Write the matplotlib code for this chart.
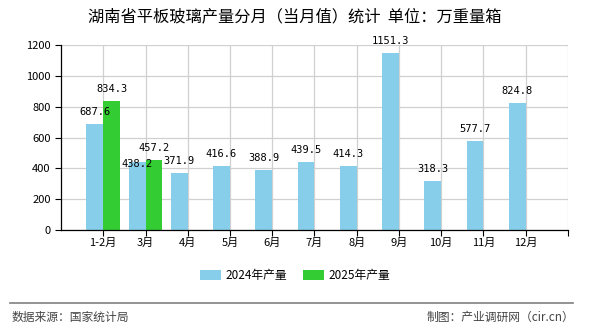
import numpy as np
import matplotlib.pyplot as plt

plt.rcParams['font.family'] = ['Noto Sans CJK SC', 'DejaVu Sans']

# data
months = ['1-2月', '3月', '4月', '5月', '6月', '7月', '8月', '9月', '10月', '11月', '12月']
y2024 = [687.6, 438.2, 371.9, 416.6, 388.9, 439.5, 414.3, 1151.3, 318.3, 577.7, 824.8]
y2025 = [834.3, 457.2]
yticks = [0, 200, 400, 600, 800, 1000, 1200]

c24 = '#87CEEB'
c25 = '#33CC33'

fig = plt.figure(figsize=(5.9, 3.3), dpi=100)
ax = fig.add_axes([0.1034, 0.303, 0.8593, 0.5606])

x = np.arange(len(months))
x25 = np.arange(len(y2025))
w = 0.4
ax.bar(x - w / 2, y2024, width=w, color=c24, zorder=2, label='2024年产量')
ax.bar(x25 + w / 2, y2025, width=w, color=c25, zorder=2, label='2025年产量')

# data labels
lab_font = dict(family='DejaVu Sans Mono', fontsize=7.5, color='black', ha='center', va='bottom', zorder=4)
for i, v in enumerate(y2024):
    dy = 5
    if i < len(y2025) and abs(y2025[i] - v) < 60:
        dy = -5  # pushed down when it would clash with the 2025 label
    ax.annotate(f'{v:.1f}', (x[i] - w / 2, v), xytext=(0, dy), textcoords='offset points', **lab_font)
for i, v in enumerate(y2025):
    ax.annotate(f'{v:.1f}', (x25[i] + w / 2, v), xytext=(0, 5), textcoords='offset points', **lab_font)

ax.set_xlim(-1, 11)
ax.set_ylim(0, 1200)
ax.set_yticks(yticks)
ax.set_xticks(list(x) + [11])
ax.set_xticklabels(months + [''])
ax.tick_params(axis='both', labelsize=8, length=4, width=0.8, direction='out', color='black')
ax.tick_params(axis='x', pad=2)
ax.grid(True, color='#d0d0d0', linewidth=0.9, zorder=0)
for s in ['top', 'right']:
    ax.spines[s].set_visible(False)
ax.spines['left'].set_linewidth(0.9)
ax.spines['bottom'].set_linewidth(0.9)

fig.text(0.5, 0.948, '湖南省平板玻璃产量分月（当月值）统计  单位：万重量箱', ha='center', va='center', fontsize=11.7)

fig.legend(loc='center', bbox_to_anchor=(0.5, 0.165), ncol=2, frameon=False, fontsize=8.5,
           handlelength=1.8, handleheight=0.9, columnspacing=1.3, handletextpad=0.4)

fig.add_artist(plt.Line2D([0.017, 0.972], [0.082, 0.082], color='#808080', linewidth=1.2))
fig.text(0.02, 0.038, '数据来源：国家统计局', ha='left', va='center', fontsize=8.5, color='#444444')
fig.text(0.973, 0.038, '制图：产业调研网（cir.cn）', ha='right', va='center', fontsize=8.5, color='#444444')

fig.savefig('out.png', dpi=100)
